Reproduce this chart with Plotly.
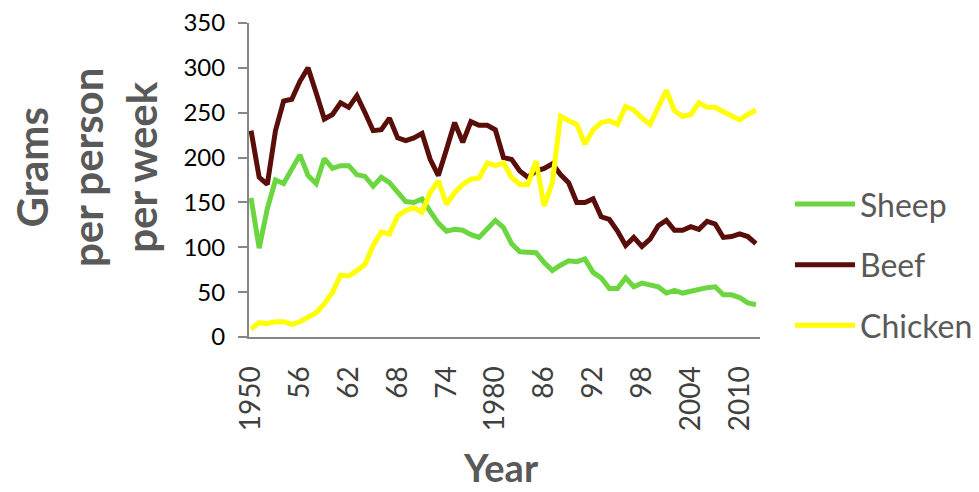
import plotly.graph_objects as go

years = list(range(1950, 2013))

sheep = [155, 99, 143, 175, 171, 187, 203, 180, 171, 199,
         188, 191, 191, 181, 179, 168, 178, 172, 162, 151,
         150, 154, 140, 127, 118, 120, 119, 114, 111, 121,
         130, 122, 104, 95, 95, 94, 83, 74, 80, 85,
         84, 87, 72, 66, 54, 54, 66, 56, 60, 58,
         56, 49, 52, 49, 51, 54, 55, 56, 47, 47,
         44, 38, 36]

beef = [230, 178, 170, 230, 263, 265, 285, 300, 272, 243,
        248, 261, 256, 269, 250, 230, 231, 244, 222, 219,
        222, 227, 198, 180, 209, 239, 217, 240, 236, 236,
        231, 200, 198, 185, 178, 185, 188, 193, 181, 172,
        150, 150, 154, 134, 131, 118, 102, 111, 101, 109,
        124, 130, 119, 119, 123, 120, 129, 126, 111, 112,
        115, 112, 104]

chicken = [9, 16, 15, 17, 17, 14, 17, 22, 27, 37,
           50, 69, 68, 74, 81, 102, 117, 115, 135, 141,
           144, 139, 161, 174, 148, 161, 170, 176, 177, 194,
           191, 194, 178, 170, 170, 196, 146, 172, 246, 241,
           237, 215, 231, 239, 241, 237, 257, 253, 244, 237,
           256, 275, 252, 246, 248, 261, 256, 256, 251, 246,
           242, 248, 253]

tick_years = [1950, 1956, 1962, 1968, 1974, 1980, 1986, 1992, 1998, 2004, 2010]
tick_text = ["1950", "56", "62", "68", "74", "1980", "86", "92", "98", "2004", "2010"]

series = [
    ("Sheep", sheep, "#6cd640"),
    ("Beef", beef, "#5a0e0a"),
    ("Chicken", chicken, "#ffff00"),
]

fig = go.Figure()
for name, vals, col in series:
    fig.add_trace(
        go.Scatter(
            x=years,
            y=vals,
            name=name,
            mode="lines",
            line=dict(color=col, width=5),
            legendgroup=name,
        )
    )

# page body adds an 8px offset, so the margins are shifted by that much
axis_grey = "#868686"
fig.update_layout(
    width=979,
    height=492,
    margin=dict(l=241, r=227, t=15, b=163, autoexpand=False),
    plot_bgcolor="white",
    paper_bgcolor="white",
    font=dict(family="Lato", color="#000000"),
    xaxis=dict(
        range=[1949.75, 2012.5],
        tickvals=tick_years,
        ticktext=tick_text,
        tickangle=-90,
        tickfont=dict(size=28, color="#404040"),
        showline=True,
        linecolor=axis_grey,
        linewidth=2,
        showgrid=False,
        zeroline=False,
        ticks="",
        ticklabelstandoff=16,
        automargin=False,
    ),
    yaxis=dict(
        range=[0, 350],
        dtick=50,
        tickfont=dict(size=24, color="#000000"),
        showline=True,
        linecolor=axis_grey,
        linewidth=2,
        showgrid=False,
        zeroline=False,
        ticks="outside",
        ticklen=9,
        tickcolor=axis_grey,
        tickwidth=1.5,
        ticklabelstandoff=8,
        ticklabeloverflow="allow",
        automargin=False,
    ),
    legend=dict(
        x=(782 - 241) / 511,
        y=0.23,
        xanchor="left",
        yanchor="middle",
        font=dict(size=32, color="#595959"),
        tracegroupgap=16,
        itemwidth=60,
        bgcolor="rgba(0,0,0,0)",
    ),
    showlegend=True,
)

fig.add_annotation(
    text="Grams<br>per person<br>per week",
    xref="paper",
    yref="paper",
    x=(78 - 241) / 511,
    y=(329 - 160) / 314,
    xanchor="center",
    yanchor="middle",
    textangle=-90,
    showarrow=False,
    font=dict(family="Lato", size=42, color="#595959", weight="bold"),
)

fig.add_annotation(
    text="Year",
    xref="paper",
    yref="paper",
    x=(493 - 241) / 511,
    y=(329 - 484) / 314,
    xanchor="center",
    yanchor="bottom",
    showarrow=False,
    font=dict(family="Lato", size=38, color="#595959", weight="bold"),
)

fig.write_html("out.html")
